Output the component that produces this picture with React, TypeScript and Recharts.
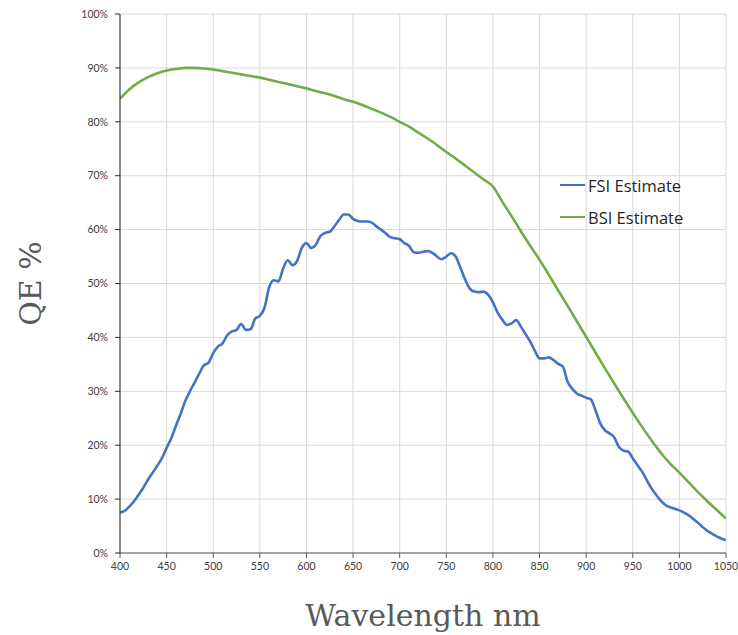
import { CartesianGrid, Label, Line, LineChart, XAxis, YAxis } from 'recharts';

// FSI estimate, read every 5 nm
const fsiWavelength = [
  400, 405, 410, 415, 420, 425, 430, 435, 440, 445, 450, 455, 460, 465, 470, 475, 480, 485, 490, 495,
  500, 505, 510, 515, 520, 525, 530, 535, 540, 545, 550, 555, 560, 565, 570, 575, 580, 585, 590, 595,
  600, 605, 610, 615, 620, 625, 630, 635, 640, 645, 650, 655, 660, 665, 670, 675, 680, 685, 690, 695,
  700, 705, 710, 715, 720, 725, 730, 735, 740, 745, 750, 755, 760, 765, 770, 775, 780, 785, 790, 795,
  800, 805, 810, 815, 820, 825, 830, 835, 840, 845, 850, 855, 860, 865, 870, 875, 880, 885, 890, 895,
  900, 905, 910, 915, 920, 925, 930, 935, 940, 945, 950, 955, 960, 965, 970, 975, 980, 985, 990, 995,
  1000, 1005, 1010, 1015, 1020, 1025, 1030, 1035, 1040, 1045, 1050,
];
const fsiQe = [
  7.5, 7.8, 8.6, 9.6, 10.8, 12.1, 13.6, 14.9, 16.2, 17.6, 19.5, 21.3, 23.6, 25.8, 28.2, 30.0, 31.6, 33.3, 34.8, 35.3,
  37.1, 38.3, 38.9, 40.4, 41.1, 41.4, 42.5, 41.4, 41.5, 43.5, 44.0, 45.5, 49.3, 50.6, 50.4, 52.8, 54.3, 53.4, 54.2, 56.6,
  57.5, 56.6, 57.2, 58.8, 59.4, 59.6, 60.6, 61.8, 62.8, 62.8, 62.0, 61.6, 61.5, 61.5, 61.3, 60.6, 60.0, 59.3, 58.6, 58.4,
  58.2, 57.5, 57.0, 55.8, 55.7, 55.9, 56.0, 55.7, 55.0, 54.5, 55.0, 55.6, 55.0, 53.0, 50.8, 49.1, 48.5, 48.4, 48.5, 47.9,
  46.5, 44.6, 43.3, 42.3, 42.6, 43.2, 42.0, 40.6, 39.2, 37.5, 36.1, 36.1, 36.3, 35.8, 35.1, 34.6, 31.8, 30.5, 29.6, 29.2,
  28.8, 28.5, 26.5, 24.1, 22.8, 22.2, 21.5, 19.7, 19.0, 18.8, 17.6, 16.3, 15.1, 13.5, 12.0, 10.8, 9.7, 8.9, 8.5, 8.2,
  7.9, 7.5, 7.0, 6.3, 5.6, 4.8, 4.1, 3.6, 3.1, 2.7, 2.4,
];

// BSI estimate, read every 10 nm
const bsiWavelength = [
  400, 410, 420, 430, 440, 450, 460, 470, 480, 490, 500, 510, 520, 530, 540, 550, 560, 570, 580, 590,
  600, 610, 620, 630, 640, 650, 660, 670, 680, 690, 700, 710, 720, 730, 740, 750, 760, 770, 780, 790,
  800, 810, 820, 830, 840, 850, 860, 870, 880, 890, 900, 910, 920, 930, 940, 950, 960, 970, 980, 990,
  1000, 1010, 1020, 1030, 1040, 1050,
];
const bsiQe = [
  84.3, 86.0, 87.3, 88.3, 89.0, 89.5, 89.8, 90.0, 90.0, 89.9, 89.7, 89.4, 89.1, 88.8, 88.5, 88.2, 87.8, 87.4, 87.0, 86.6,
  86.2, 85.7, 85.3, 84.8, 84.2, 83.7, 83.1, 82.4, 81.7, 80.9, 80.0, 79.1, 78.0, 76.9, 75.7, 74.4, 73.2, 71.9, 70.6, 69.3,
  68.0, 65.2, 62.5, 59.7, 57.0, 54.4, 51.6, 48.7, 45.9, 43.0, 40.1, 37.2, 34.3, 31.5, 28.7, 26.0, 23.4, 20.9, 18.6, 16.6,
  14.9, 13.1, 11.3, 9.6, 8.0, 6.4,
];

const xTicks = [400, 450, 500, 550, 600, 650, 700, 750, 800, 850, 900, 950, 1000, 1050];
const yTicks = [0, 10, 20, 30, 40, 50, 60, 70, 80, 90, 100];

const seriesNames = ['FSI Estimate', 'BSI Estimate'];
const seriesColors = ['#4472C4', '#70AD47'];

const fsiData = fsiWavelength.map((nm, i) => ({ nm, qe: fsiQe[i] }));
const bsiData = bsiWavelength.map((nm, i) => ({ nm, qe: bsiQe[i] }));

const titleStyle = { fontFamily: '"DejaVu Serif", serif', fontSize: 30, fill: '#595959' };

function XTitle({ viewBox }: any) {
  const cx = viewBox.x + viewBox.width / 2;
  return (
    <text x={cx} y={626} textAnchor="middle" style={titleStyle}>
      Wavelength nm
    </text>
  );
}

function YTitle({ viewBox }: any) {
  const cx = 30;
  const cy = viewBox.y + viewBox.height / 2;
  return (
    <text
      x={cx}
      y={cy}
      transform={`rotate(-90 ${cx} ${cy})`}
      textAnchor="middle"
      dominantBaseline="central"
      style={titleStyle}
    >
      QE %
    </text>
  );
}

function ChartLegend() {
  return (
    <div
      style={{
        position: 'absolute',
        left: 560,
        top: 169,
        fontFamily: '"Open Sans", sans-serif',
        fontSize: 16.5,
        color: '#262626',
      }}
    >
      {seriesNames.map((name, i) => (
        <div key={name} style={{ display: 'flex', alignItems: 'center', height: 32 }}>
          <span style={{ width: 25, height: 2.5, background: seriesColors[i], marginRight: 3 }} />
          <span>{name}</span>
        </div>
      ))}
    </div>
  );
}

export default function App() {
  const tickStyle = { fontSize: 10.5, fill: '#404040', fontFamily: 'Lato, sans-serif' };
  return (
    <div
      style={{ position: 'absolute', top: 0, left: 0, width: 738, height: 635, overflow: 'hidden' }}
    >
      <LineChart width={738} height={635} margin={{ top: 14, right: 12, left: 0, bottom: 0 }}>
        <CartesianGrid stroke="#d9d9d9" />
        <XAxis
          type="number"
          dataKey="nm"
          domain={[400, 1050]}
          ticks={xTicks}
          allowDataOverflow
          height={82}
          tick={tickStyle}
          tickSize={5}
          tickMargin={5}
          tickLine={{ stroke: '#595959' }}
          axisLine={{ stroke: '#595959' }}
        >
          <Label content={XTitle} />
        </XAxis>
        <YAxis
          type="number"
          domain={[0, 100]}
          ticks={yTicks}
          width={120}
          tick={tickStyle}
          tickSize={5}
          tickMargin={7}
          tickFormatter={(v) => `${v}%`}
          tickLine={{ stroke: '#262626' }}
          axisLine={{ stroke: '#262626' }}
        >
          <Label content={YTitle} />
        </YAxis>
        <Line
          data={fsiData}
          dataKey="qe"
          name={seriesNames[0]}
          type="monotone"
          stroke={seriesColors[0]}
          strokeWidth={2.6}
          dot={false}
          isAnimationActive={false}
        />
        <Line
          data={bsiData}
          dataKey="qe"
          name={seriesNames[1]}
          type="monotone"
          stroke={seriesColors[1]}
          strokeWidth={2.6}
          dot={false}
          isAnimationActive={false}
        />
      </LineChart>
      <ChartLegend />
    </div>
  );
}
